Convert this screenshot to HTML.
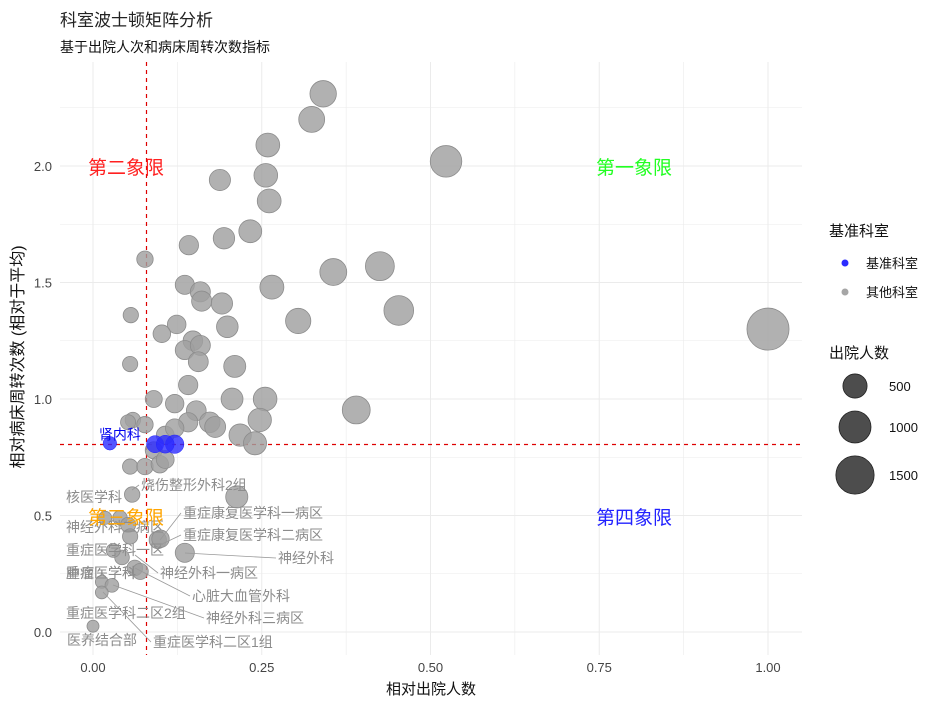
<!DOCTYPE html>
<html><head><meta charset="utf-8">
<style>
body{margin:0;background:#fff;}
svg text{font-family:"Liberation Sans","Noto Sans CJK SC",sans-serif;}
</style></head>
<body>
<svg id="chart" width="942" height="708" xmlns="http://www.w3.org/2000/svg">
<text x="60" y="26" font-size="17" fill="#222">科室波士顿矩阵分析</text>
<text x="60" y="52" font-size="14" fill="#111">基于出院人次和病床周转次数指标</text>
<g id="grid"></g>
<g id="refs"></g>
<g id="pts"></g>
<g id="labels"></g>
<g id="quads"></g>
<g id="axes"></g>
<text x="431" y="694" font-size="15" text-anchor="middle" fill="#111">相对出院人数</text>
<text transform="translate(23,357) rotate(-90)" font-size="16" text-anchor="middle" fill="#111">相对病床周转次数 (相对于平均)</text>
<g id="legend"></g>
</svg>
<script>
const xTicks=[0,0.25,0.5,0.75,1.0];
const xTickLabels=["0.00","0.25","0.50","0.75","1.00"];
const yTicks=[0,0.5,1.0,1.5,2.0];
const yTickLabels=["0.0","0.5","1.0","1.5","2.0"];
const refX=0.0785, refY=0.807;
const maxCount=1850;
// other departments: relative x, relative y
const otherX=[.341,.324,.259,.523,.256,.188,.261,.233,.194,.142,.077,.425,.356,.265,.136,.159,.161,.191,.453,1.0,.304,.056,.199,.124,.102,.148,.136,.159,.156,.055,.210,.141,.390,.255,.206,.090,.121,.153,.173,.247,.181,.059,.052,.077,.141,.218,.240,.107,.121,.090,.055,.077,.099,.107,.058,.213,.018,.040,.052,.055,.096,.136,.062,.043,.030,.013,.028,.013,0.0,.100,.070];
const otherY=[2.31,2.20,2.09,2.02,1.96,1.94,1.85,1.72,1.69,1.66,1.60,1.57,1.545,1.48,1.49,1.46,1.42,1.41,1.38,1.30,1.335,1.36,1.31,1.32,1.28,1.25,1.21,1.23,1.16,1.15,1.14,1.06,.953,1.00,1.00,1.00,.98,.95,.90,.91,.88,.91,.90,.89,.90,.845,.81,.845,.875,.78,.71,.71,.72,.74,.59,.58,.49,.49,.46,.41,.395,.34,.275,.32,.35,.215,.20,.17,.025,.40,.26];
const baseX=[.025,.092,.121,.107];
const baseY=[.81,.806,.806,.806];
const baseNames=["肾内科","","",""];
const sizeLegend=[500,1000,1500];

const NS="http://www.w3.org/2000/svg";
const L=60,R=802,T=62,B=655;
const sx=v=>93+v*675, sy=v=>632-v*233;
const rad=n=>Math.sqrt(36+0.22*n);
function mk(tag,attrs,parent,txt){const e=document.createElementNS(NS,tag);for(const k in attrs)e.setAttribute(k,attrs[k]);if(txt!==undefined)e.textContent=txt;parent.appendChild(e);return e;}
const grid=document.getElementById('grid');
for(let v=-0.125;v<=1.05;v+=0.125){const x=sx(v);if(x<L||x>R)continue;const l=mk('line',{x1:x,x2:x,y1:T,y2:B,stroke:'#ebebeb','stroke-width':(Math.abs(v*4-Math.round(v*4))<1e-6)?1:0.6},grid);

}
for(let v=-0.25;v<=2.5;v+=0.25){const y=sy(v);if(y<T||y>B)continue;const l=mk('line',{x1:L,x2:R,y1:y,y2:y,stroke:'#ebebeb','stroke-width':(Math.abs(v*2-Math.round(v*2))<1e-6)?1:0.6},grid);

}
const axes=document.getElementById('axes');
xTicks.forEach((v,i)=>{const t=mk('text',{x:sx(v),y:672,'font-size':13,'text-anchor':'middle',fill:'#444'},axes,xTickLabels[i]);

});
yTicks.forEach((v,i)=>{const t=mk('text',{x:52,y:sy(v)+5,'font-size':13,'text-anchor':'end',fill:'#444'},axes,yTickLabels[i]);

});
const refs=document.getElementById('refs');
const rxp=Math.round(sx(refX))+0.5, ryp=Math.round(sy(refY))+0.5;
const rv=mk('line',{x1:rxp,x2:rxp,y1:T,y2:B,stroke:'#dd0000','stroke-width':1.2,'stroke-dasharray':'4,4'},refs);


const rh=mk('line',{x1:L,x2:R,y1:ryp,y2:ryp,stroke:'#dd0000','stroke-width':1.2,'stroke-dasharray':'4,4'},refs);


const pts=document.getElementById('pts');
otherX.forEach((x,i)=>{const c=mk('circle',{cx:sx(x),cy:sy(otherY[i]),r:rad(x*maxCount),fill:'#a0a0a0','fill-opacity':0.82,stroke:'#8c8c8c','stroke-width':0.8},pts);

});
baseX.forEach((x,i)=>{const c=mk('circle',{cx:sx(x),cy:sy(baseY[i]),r:rad(x*maxCount),fill:'#2b2bff','fill-opacity':0.8,stroke:'#22f','stroke-width':0.5},pts);


if(baseNames[i]){const t=mk('text',{x:sx(x)+10,y:sy(baseY[i])-4,'font-size':14,'text-anchor':'middle',fill:'#0000ee'},pts,baseNames[i]);

}});
// repelled labels: text, text pos, leader anchor
const lab=[["烧伤整形外科2组",141,490,132,490],["核医学科",66,502,0,0],["神经外科二病区",66,532,0,0],["重症医学科一区",66,555,0,0],["肿瘤医学科",66,578,0,0],["重症医学科",66,578,0,0],["重症医学科二区2组",66,618,0,0],["医养结合部",67,645,0,0],["重症康复医学科一病区",183,518,160,540],["重症康复医学科二病区",183,540,160,545],["神经外科",278,563,185,553],["神经外科一病区",160,578,135,555],["心脏大血管外科",192,601,135,568],["神经外科三病区",206,623,113,585],["重症医学科二区1组",153,647,103,592]];
const lg=document.getElementById('labels');
lab.forEach(a=>{if(a[3]){const l=mk('line',{x1:a[3],y1:a[4],x2:a[1]-2,y2:a[2]-5,stroke:'#999','stroke-width':0.8},lg);

}
const t=mk('text',{x:a[1],y:a[2],'font-size':14,fill:'#8c8c8c'},lg,a[0]);

});
const quads=[["第二象限",126,174,"#ff2020"],["第一象限",634,174,"#22ff22"],["第三象限",126,524,"#ffa500"],["第四象限",634,524,"#2222ff"]];
const qg=document.getElementById('quads');
quads.forEach(q=>{const t=mk('text',{x:q[1],y:q[2],'font-size':19,'text-anchor':'middle',fill:q[3]},qg,q[0]);

});
const leg=document.getElementById('legend');
let t=mk('text',{x:829,y:236,'font-size':15,fill:'#111'},leg,'基准科室');


[["基准科室","#2b2bff",263],["其他科室","#a6a6a6",292]].forEach(e=>{const c=mk('circle',{cx:845,cy:e[2],r:3.5,fill:e[1]},leg);


const tt=mk('text',{x:866,y:e[2]+5,'font-size':13,fill:'#111'},leg,e[0]);

});
t=mk('text',{x:829,y:358,'font-size':15,fill:'#111'},leg,'出院人数');


const sy0=[386,427,475];
sizeLegend.forEach((n,i)=>{const c=mk('circle',{cx:855,cy:sy0[i],r:rad(n),fill:'#4d4d4d',stroke:'#222','stroke-width':0.8},leg);


const tt=mk('text',{x:889,y:sy0[i]+5,'font-size':13,fill:'#111'},leg,String(n));

});
</script>
</body></html>
